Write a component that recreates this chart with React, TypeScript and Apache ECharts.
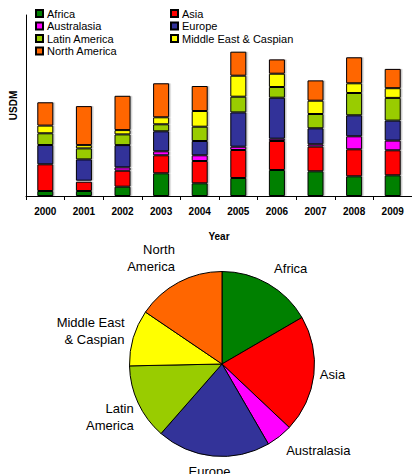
import React, { useEffect, useRef } from "react";
import * as echarts from "echarts";

const years = ["2000", "2001", "2002", "2003", "2004", "2005", "2006", "2007", "2008", "2009"];
const regions = ["Africa", "Asia", "Australasia", "Europe", "Latin America", "Middle East & Caspian", "North America"];
const regionColors = ["#008000", "#FF0000", "#FF00FF", "#333399", "#99CC00", "#FFFF00", "#FF6600"];

const africa = [50, 50, 93, 227, 127, 180, 260, 247, 197, 207];
const asia = [267, 93, 160, 180, 223, 280, 290, 247, 270, 250];
const australasia = [0, 10, 33, 40, 57, 33, 23, 23, 130, 97];
const europe = [193, 213, 223, 200, 143, 343, 410, 160, 210, 200];
const latinAmerica = [117, 110, 107, 70, 143, 157, 107, 143, 223, 227];
const middleEast = [77, 33, 43, 70, 157, 210, 133, 133, 97, 97];
const northAmerica = [233, 390, 343, 340, 250, 240, 143, 203, 260, 193];

const pieShares = [16.6, 20.4, 4.6, 19.8, 13.2, 9.8, 15.5];
const pieLabels = ["Africa", "Asia", "Australasia", "Europe", "Latin\nAmerica", "Middle East\n& Caspian", "North\nAmerica"];
// small nudges of the pie labels (layout only)
const labelNudges: [number, number][] = [[-2, -10], [-5, -1], [-2, 9], [23, 9], [6, 11], [2, -5], [4, -19]];

const FONT = "'Liberation Sans', Arial, sans-serif";

export default function App() {
  const ref = useRef<HTMLDivElement>(null);
  useEffect(() => {
    if (!ref.current) return;
    const chart = echarts.init(ref.current, undefined, { renderer: "svg" });
    const seriesData = [africa, asia, australasia, europe, latinAmerica, middleEast, northAmerica];
    const legendStyle = {
      orient: "vertical" as const,
      top: 8,
      padding: 0,
      itemWidth: 7,
      itemHeight: 7,
      itemGap: 1.5,
      textStyle: { fontFamily: FONT, fontSize: 11, color: "#000", padding: [0, 0, 0, -1] },
      icon: "rect",
    };
    chart.setOption({
      animation: false,
      textStyle: { fontFamily: FONT },
      legend: [
        { ...legendStyle, left: 35, data: ["Africa", "Australasia", "Latin America", "North America"] },
        { ...legendStyle, left: 170, data: ["Asia", "Europe", "Middle East & Caspian"] },
      ],
      grid: { left: 21, top: 15, width: 393, height: 181 },
      xAxis: {
        type: "category",
        data: years,
        axisLine: { lineStyle: { color: "#000", width: 1 } },
        axisTick: { show: true, length: 4, lineStyle: { color: "#000" } },
        axisLabel: { fontFamily: FONT, fontSize: 10, fontWeight: "bold", color: "#000", margin: 10 },
        name: "Year",
        nameLocation: "middle",
        nameGap: 35,
        nameTextStyle: { fontFamily: FONT, fontSize: 10, fontWeight: "bold", color: "#000" },
      },
      yAxis: {
        type: "value",
        min: 0,
        max: 1810,
        axisLine: { show: true, lineStyle: { color: "#000", width: 1 } },
        axisTick: { show: false },
        axisLabel: { show: false },
        splitLine: { show: false },
        name: "USDM",
        nameLocation: "middle",
        nameGap: 8,
        nameTextStyle: { fontFamily: FONT, fontSize: 10, fontWeight: "bold", color: "#000" },
      },
      series: [
        ...regions.map((r, i) => ({
          type: "bar",
          name: r,
          stack: "total",
          barWidth: 16,
          data: seriesData[i],
          itemStyle: {
            color: regionColors[i],
            borderColor: "#000",
            borderWidth: 1,
            shadowColor: "rgba(0,0,0,0.22)",
            shadowOffsetX: 1.5,
            shadowOffsetY: 0,
            shadowBlur: 0,
          },
        })),
        {
          type: "pie",
          name: "share",
          center: [222, 364],
          radius: 92.5,
          startAngle: 90,
          clockwise: true,
          data: regions.map((r, i) => ({ name: r, value: pieShares[i] })),
          itemStyle: { borderColor: "#000", borderWidth: 1 },
          color: regionColors,
          label: {
            show: true,
            position: "outside",
            formatter: (p: any) => pieLabels[p.dataIndex],
            fontFamily: FONT,
            fontSize: 13,
            lineHeight: 17,
            color: "#000",
          },
          labelLine: { show: false, length: 6, length2: 0 },
          labelLayout: (p: any) => ({ dx: labelNudges[p.dataIndex][0], dy: labelNudges[p.dataIndex][1] }),
        },
      ],
    });
    return () => chart.dispose();
  }, []);
  return <div ref={ref} style={{ position: "fixed", left: 0, top: 0, width: 412, height: 474, background: "#fff" }} />;
}
